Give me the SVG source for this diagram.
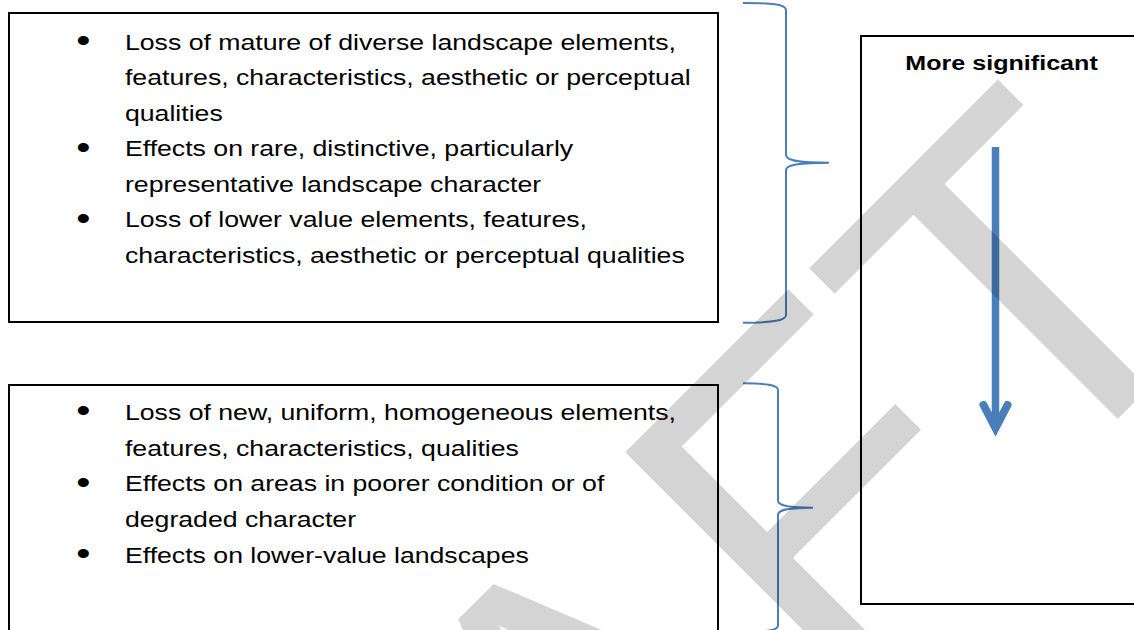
<svg xmlns="http://www.w3.org/2000/svg" width="1134" height="630" viewBox="0 0 1134 630">
<style>
.box{fill:none;stroke:#000;stroke-width:2}
.t{font-family:"Liberation Sans",Arial,sans-serif;font-size:22.4px;fill:#000}
.bl{text-anchor:middle;font-size:34px}
.hd{font-family:"Liberation Sans",Arial,sans-serif;font-size:21.1px;font-weight:bold;fill:#000;text-anchor:middle}
.brace{fill:none;stroke:#4a7ebb;stroke-width:2}
.arr{fill:none;stroke:#4a7ebb}
.wm{font-family:"Liberation Sans",Arial,sans-serif;font-size:472px;fill:#000;fill-opacity:0.17;font-kerning:none}
</style>
<rect x="0" y="0" width="1134" height="630" fill="#fff"/>
<g id="box-higher-value">
  <rect class="box" x="9" y="13" width="709" height="309"/>
  <g transform="scale(1.19,1)" class="t">
    <text class="bl" x="70" y="52.5">•</text>
    <text x="105" y="50">Loss of mature of diverse landscape elements,</text>
    <text x="105" y="85.5">features, characteristics, aesthetic or perceptual</text>
    <text x="105" y="121">qualities</text>
    <text class="bl" x="70" y="159">•</text>
    <text x="105" y="156.5">Effects on rare, distinctive, particularly</text>
    <text x="105" y="192">representative landscape character</text>
    <text class="bl" x="70" y="230">•</text>
    <text x="105" y="227.5">Loss of lower value elements, features,</text>
    <text x="105" y="263">characteristics, aesthetic or perceptual qualities</text>
  </g>
</g>
<g id="box-lower-value">
  <rect class="box" x="9" y="385" width="709" height="260"/>
  <g transform="scale(1.19,1)" class="t">
    <text class="bl" x="70" y="422.5">•</text>
    <text x="105" y="420">Loss of new, uniform, homogeneous elements,</text>
    <text x="105" y="455.7">features, characteristics, qualities</text>
    <text class="bl" x="70" y="493.9">•</text>
    <text x="105" y="491.4">Effects on areas in poorer condition or of</text>
    <text x="105" y="527.1">degraded character</text>
    <text class="bl" x="70" y="565.3">•</text>
    <text x="105" y="562.8">Effects on lower-value landscapes</text>
  </g>
</g>
<g id="box-significance">
  <rect class="box" x="861" y="36" width="290" height="568"/>
  <text class="hd" transform="translate(1001.5,70) scale(1.19,1)" x="0" y="0">More significant</text>
</g>
<g id="connectors">
  <path class="brace" d="M743,3 C771,3 786,4 786,10 L786,155 C786,160 795,162.7 829,162.7 C795,162.7 786,165.5 786,170 L786,315 C786,321 771,322.7 743,322.7"/>
  <path class="brace" d="M743,383.3 C766,383.3 778,385 778,390 L778,500.5 C778,505 786,507.7 813,507.7 C786,507.7 778,510 778,515 L778,625.5 C778,630.5 766,632 743,632"/>
  <line class="arr" x1="995.5" y1="147" x2="995.5" y2="427" stroke-width="7.5"/>
  <path class="arr" d="M983.5,405 L995.5,428 L1007.5,405" stroke-width="8" stroke-linecap="round" stroke-linejoin="miter"/>
</g>
<g id="watermark">
  <text class="wm" transform="translate(122.8,1414) rotate(-45)" x="0" y="0" dx="0 0 -16 16 0">DRAFT</text>
</g>
</svg>
